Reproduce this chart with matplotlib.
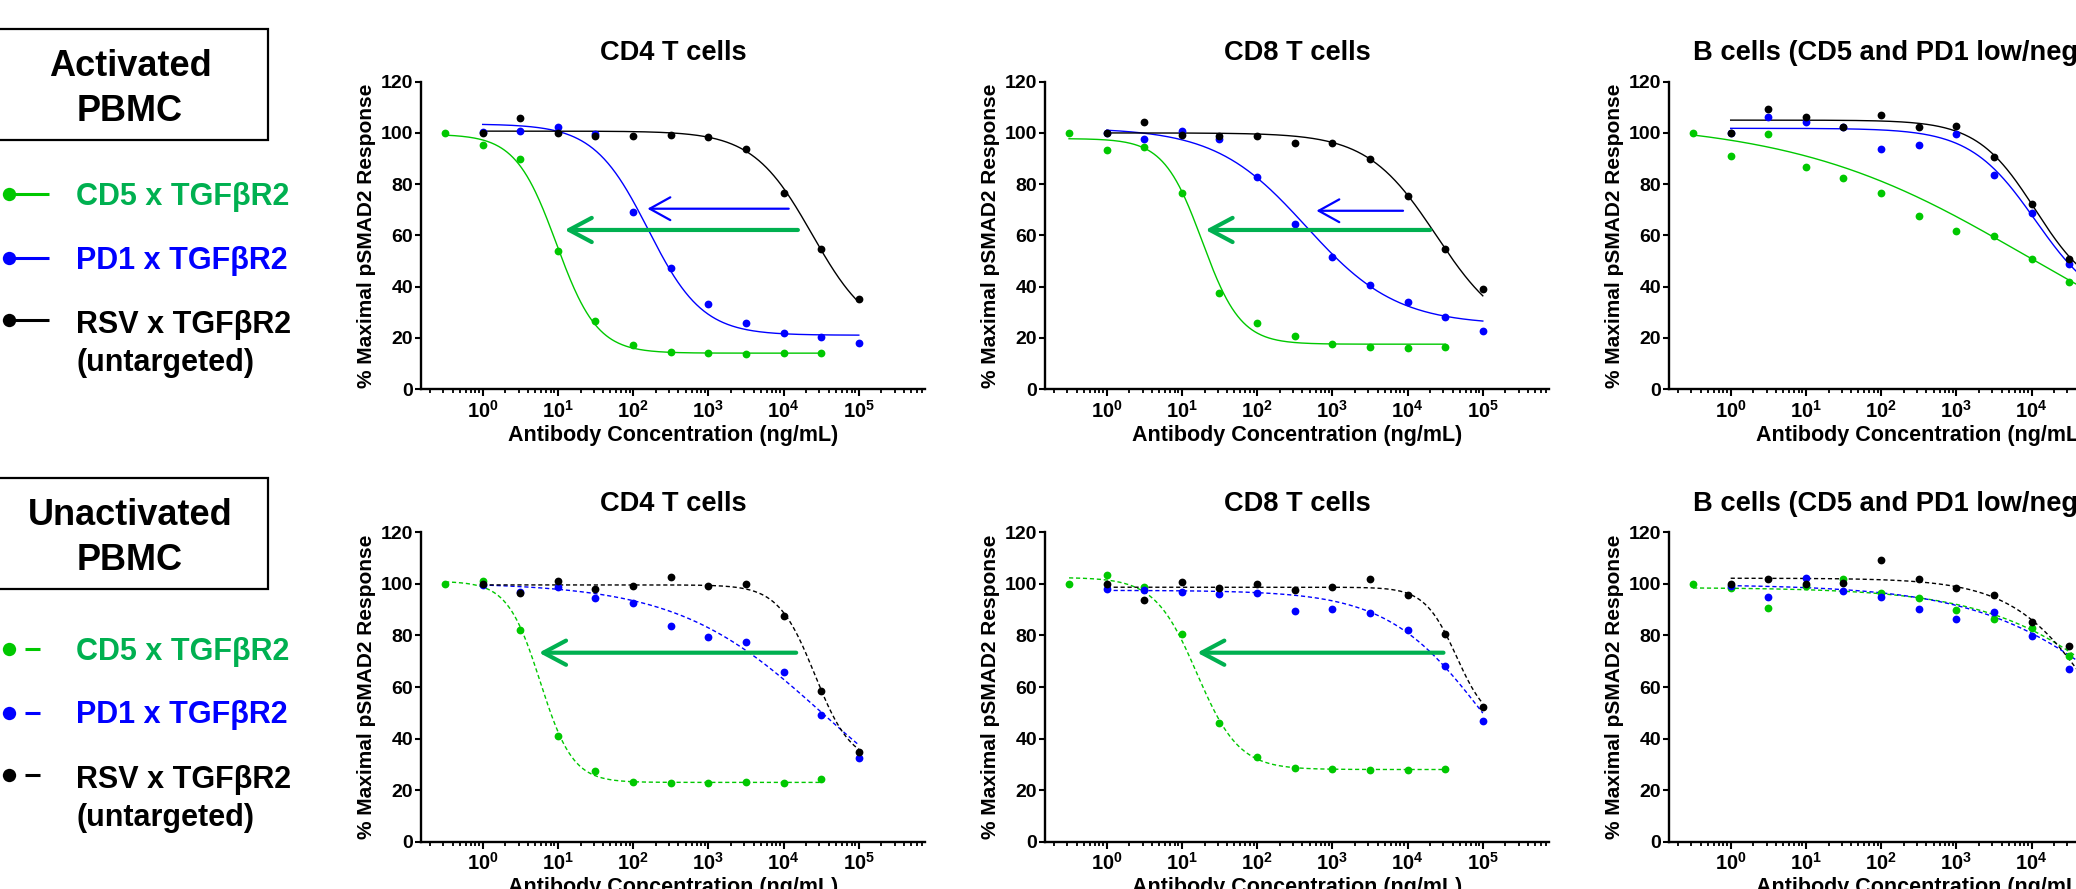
import numpy as np
import matplotlib
matplotlib.use('Agg')
import matplotlib.pyplot as plt
from matplotlib.patches import FancyArrowPatch, Rectangle, ArrowStyle
from matplotlib.ticker import LogLocator, NullFormatter

plt.rcParams['font.family'] = ['Liberation Sans', 'DejaVu Sans']
plt.rcParams['font.weight'] = 'bold'
plt.rcParams['mathtext.fontset'] = 'custom'
plt.rcParams['mathtext.rm'] = 'Liberation Sans:bold'
plt.rcParams['mathtext.bf'] = 'Liberation Sans:bold'

# half-log dilution series (ng/mL)
conc = [0.316, 1, 3.16, 10, 31.6, 100, 316, 1000, 3162, 10000, 31623, 100000]
x_ticks = [1, 10, 100, 1000, 10000, 100000]
x_tick_labels = [r'$\mathbf{10^{0}}$', r'$\mathbf{10^{1}}$', r'$\mathbf{10^{2}}$',
                 r'$\mathbf{10^{3}}$', r'$\mathbf{10^{4}}$', r'$\mathbf{10^{5}}$']
y_ticks = [0, 20, 40, 60, 80, 100, 120]

series_names = ['CD5 x TGF\u03b2R2', 'PD1 x TGF\u03b2R2', 'RSV x TGF\u03b2R2\n(untargeted)']
point_colors = ['#00c800', '#0000ff', '#000000']
text_colors = ['#00b050', '#0000ff', '#000000']
arrow_green = '#00b050'
row_names = ['Activated\nPBMC', 'Unactivated\nPBMC']
titles = ['CD4 T cells', 'CD8 T cells', 'B cells (CD5 and PD1 low/negative)']

# ---- activated PBMC ----
act_cd4_green = [100.1, 95.3, 89.8, 53.9, 26.6, 17.2, 14.6, 13.9, 13.5, 13.9, 14.2]
act_cd4_blue = [100.5, 100.9, 102.4, 99.5, 69.2, 47.1, 33.2, 25.6, 22.0, 20.4, 18.1]
act_cd4_black = [100.1, 105.7, 100.1, 98.9, 98.8, 99.3, 98.4, 93.6, 76.7, 54.5, 35.3]
act_cd4_fits = [[99.5, 14.0, 0.98, 1.6], [103.5, 21.0, 2.2, 1.2], [100.7, 20.0, 4.38, 1.1]]

act_cd8_green = [100.1, 93.3, 94.6, 76.4, 37.6, 25.6, 20.7, 17.4, 16.3, 16.1, 16.3]
act_cd8_blue = [100.0, 97.6, 100.9, 97.6, 82.6, 64.4, 51.5, 40.6, 34.0, 28.1, 22.8]
act_cd8_black = [100.1, 104.4, 99.2, 98.8, 98.8, 96.2, 96.2, 89.8, 75.5, 54.5, 38.9]
act_cd8_fits = [[97.8, 17.5, 1.27, 1.7], [102.0, 25.0, 2.65, 0.72], [100.0, 20.0, 4.38, 0.95]]

act_b_green = [100.1, 91.0, 99.4, 86.6, 82.5, 76.4, 67.6, 61.8, 59.9, 50.6, 41.7, 36.0]
act_b_blue = [100.0, 106.3, 104.4, 102.4, 93.7, 95.3, 99.4, 83.4, 68.9, 48.8, 35.0]
act_b_black = [100.1, 109.3, 106.1, 102.4, 107.0, 102.2, 102.7, 90.7, 72.2, 50.8, 38.0]
act_b_fits = [[105.0, 0.0, 3.9, 0.28], [101.8, 30.0, 4.05, 1.0], [105.0, 35.0, 4.05, 1.12]]

# ---- unactivated PBMC ----
un_cd4_green = [99.8, 101.3, 82.1, 41.0, 27.5, 23.1, 22.6, 22.9, 23.1, 22.9, 24.3]
un_cd4_blue = [99.6, 97.0, 98.7, 94.7, 92.5, 83.7, 79.3, 77.3, 65.7, 49.1, 32.3]
un_cd4_black = [99.8, 96.6, 101.3, 98.0, 99.2, 102.5, 99.2, 100.0, 87.5, 58.6, 34.9]
un_cd4_fits = [[101.0, 23.0, 0.765, 2.0], [100.5, 0.0, 4.5, 0.45], [99.6, 30.0, 4.415, 1.78]]

un_cd8_green = [99.8, 103.5, 98.7, 80.6, 45.9, 32.7, 28.4, 28.1, 27.8, 27.8, 28.1]
un_cd8_blue = [98.0, 97.6, 96.7, 96.0, 96.3, 89.6, 90.3, 88.6, 82.1, 68.1, 46.9]
un_cd8_black = [99.8, 93.8, 100.6, 98.3, 99.8, 97.6, 98.7, 101.8, 95.7, 80.6, 52.4]
un_cd8_fits = [[102.5, 28.0, 1.2, 1.55], [97.5, 0.0, 5.03, 0.67], [98.7, 45.0, 4.65, 2.05]]

un_b_green = [99.8, 98.5, 90.8, 99.0, 101.8, 96.3, 94.7, 89.9, 86.5, 82.8, 72.2, 60.0]
un_b_blue = [99.0, 94.8, 102.4, 97.2, 95.0, 90.1, 86.5, 89.2, 79.9, 66.9, 55.0]
un_b_black = [99.8, 101.9, 99.8, 100.5, 109.3, 101.9, 98.3, 95.7, 85.1, 76.0, 62.0]
un_b_fits = [[98.6, 0.0, 5.55, 0.45], [99.8, 0.0, 5.5, 0.42], [102.2, 0.0, 4.97, 0.75]]

# shift arrows: (tail conc, head conc, % response)
act_cd4_arrows = [(11700, 155, 70.4), (15500, 12.3, 62.1)]
act_cd8_arrows = [(8700, 614, 69.6), (20000, 20.6, 62.1)]
un_cd4_arrows = [(14700, 5.6, 73.3)]
un_cd8_arrows = [(30000, 16.0, 73.3)]


def four_pl(x, top, bottom, logec50, hill):
    return bottom + (top - bottom) / (1 + 10 ** ((np.log10(x) - logec50) * hill))


panels = [
    (0, 0, [act_cd4_green, act_cd4_blue, act_cd4_black], act_cd4_fits, act_cd4_arrows),
    (0, 1, [act_cd8_green, act_cd8_blue, act_cd8_black], act_cd8_fits, act_cd8_arrows),
    (0, 2, [act_b_green, act_b_blue, act_b_black], act_b_fits, []),
    (1, 0, [un_cd4_green, un_cd4_blue, un_cd4_black], un_cd4_fits, un_cd4_arrows),
    (1, 1, [un_cd8_green, un_cd8_blue, un_cd8_black], un_cd8_fits, un_cd8_arrows),
    (1, 2, [un_b_green, un_b_blue, un_b_black], un_b_fits, []),
]

W, H = 2076, 889
fig = plt.figure(figsize=(W / 100, H / 100), dpi=100)

# pixel layout of the plot grid
col_left = [421, 1045, 1669]
ax_w = 504
row_top = [81.7, 532.3]
row_bot = [389.0, 841.7]

for row, col, series, fits, arrows in panels:
    ax_h = row_bot[row] - row_top[row]
    ax = fig.add_axes([col_left[col] / W, 1 - row_bot[row] / H, ax_w / W, ax_h / H])
    ls = '-' if row == 0 else (0, (3, 2))
    for k, (vals, fit) in enumerate(zip(series, fits)):
        xs = conc[:len(vals)] if k == 0 else conc[1:1 + len(vals)]
        xx = np.logspace(np.log10(xs[0]), np.log10(xs[-1]), 400)
        ax.plot(xx, four_pl(xx, *fit), color=point_colors[k], lw=1.0, ls=ls,
                zorder=2 + k, clip_on=False)
        ax.plot(xs, vals, 'o', color=point_colors[k], ms=5.6, mew=0,
                zorder=5 + k, clip_on=False)
    for j, (tail, head, yv) in enumerate(arrows):
        is_green = (j == len(arrows) - 1)
        if is_green:
            st = ArrowStyle('->', head_length=16.3, head_width=8.7)
            a = FancyArrowPatch((tail, yv), (head, yv), arrowstyle=st, mutation_scale=1,
                                color=arrow_green, lw=3.0, shrinkA=0, shrinkB=0, zorder=9)
        else:
            st = ArrowStyle('->', head_length=14.8, head_width=8.2)
            a = FancyArrowPatch((tail, yv), (head, yv), arrowstyle=st, mutation_scale=1,
                                color='#0000ff', lw=1.6, shrinkA=0, shrinkB=0, zorder=9)
        ax.add_patch(a)

    ax.set_xscale('log')
    ax.set_xlim(10 ** -0.82, 10 ** 5.88)
    ax.set_ylim(0, 120)
    ax.set_xticks(x_ticks, x_tick_labels)
    ax.xaxis.set_minor_locator(LogLocator(base=10, subs=np.arange(2, 10), numticks=30))
    ax.xaxis.set_minor_formatter(NullFormatter())
    ax.set_yticks(y_ticks)
    ax.spines[['top', 'right']].set_visible(False)
    for s in ['left', 'bottom']:
        ax.spines[s].set_linewidth(1.7)
    ax.tick_params(axis='x', which='major', length=5, width=1.5, pad=2.5, labelsize=14.5)
    ax.tick_params(axis='x', which='minor', length=3, width=1.3)
    ax.tick_params(axis='y', which='major', length=4.3, width=1.5, pad=1.5, labelsize=14)
    for lab in ax.get_yticklabels():
        lab.set_fontweight('bold')

    ax.set_ylabel('% Maximal pSMAD2 Response', fontsize=15, fontweight='bold', va='center')
    ax.yaxis.set_label_coords(-54 / ax_w, 0.5)
    ax.set_xlabel('Antibody Concentration (ng/mL)', fontsize=15.5, fontweight='bold',
                  va='center')
    ax.xaxis.set_label_coords(0.5, -46 / ax_h)
    ax.annotate(titles[col], xy=(0.5, 1), xycoords='axes fraction', xytext=(0, 15.5),
                textcoords='offset points', ha='center', va='baseline',
                fontsize=19.6, fontweight='bold')

# ---- left-hand row labels and legends (pixel coordinates) ----
ov = fig.add_axes([0, 0, 1, 1], zorder=-1)
ov.set_xlim(0, W)
ov.set_ylim(H, 0)
ov.axis('off')

box_top = [29.3, 478.3]
box_bot = [140.0, 589.0]
name_base = [[76, 120.7], [525, 570]]
marker_y = [[194.3, 258.3, 320.0], [649.3, 713.3, 775.0]]
text_base = [[205, 269, 333], [660, 723, 788]]

for r in range(2):
    ov.add_patch(Rectangle((-5, box_top[r]), 273.3, box_bot[r] - box_top[r],
                           fill=False, lw=1.6, ec='black'))
    for line, yb in zip(row_names[r].split('\n'), name_base[r]):
        ov.text(130, yb, line, ha='center', va='baseline', fontsize=26, fontweight='bold')
    for k in range(3):
        ym = marker_y[r][k]
        if r == 0:
            ov.plot([9.3, 49.3], [ym, ym], color=point_colors[k], lw=2.2,
                    solid_capstyle='butt')
        else:
            ov.plot([25, 40], [ym, ym], color=point_colors[k], lw=2.2,
                    solid_capstyle='butt')
        ov.plot([9.3], [ym], 'o', color=point_colors[k], ms=9.6, mew=0)
        for i, line in enumerate(series_names[k].split('\n')):
            ov.text(76, text_base[r][k] + 38 * i, line, ha='left', va='baseline',
                    fontsize=22, fontweight='bold', color=text_colors[k])

fig.savefig('out.png', dpi=100)
